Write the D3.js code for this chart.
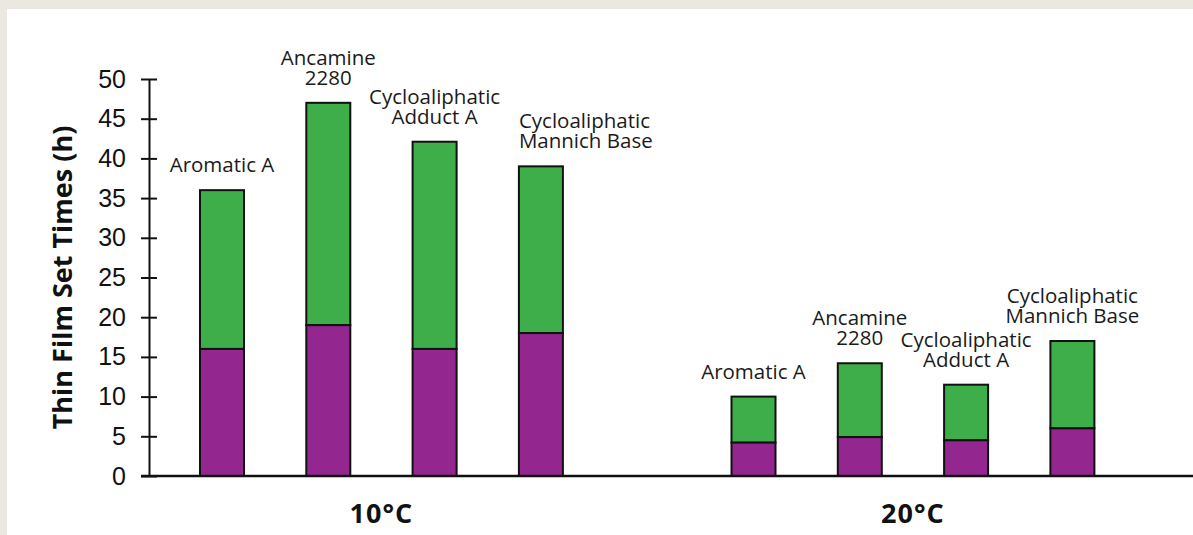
<!DOCTYPE html>
<html>
<head>
<meta charset="utf-8">
<script src="https://cdn.jsdelivr.net/npm/d3@7"></script>
<style>
    html, body { margin: 0; padding: 0; background: #ebe8e2; }
    svg { display: block; }
</style>
</head>
<body>
<div id="chart"></div>
<script>
// data
var groups = ["10°C", "20°C"];
var categories = ["Aromatic A", "Ancamine 2280", "Cycloaliphatic Adduct A", "Cycloaliphatic Mannich Base"];
var labelLines = [["Aromatic A"], ["Ancamine", "2280"], ["Cycloaliphatic", "Adduct A"], ["Cycloaliphatic", "Mannich Base"]];
// lower (purple) part and total height of each bar, per group
var lowerValues = { "10°C": [16, 19, 16, 18], "20°C": [4.2, 4.9, 4.5, 6] };
var totalValues = { "10°C": [36, 47, 42.1, 39], "20°C": [10, 14.2, 11.5, 17] };
var yTicks = [0, 5, 10, 15, 20, 25, 30, 35, 40, 45, 50];

var purple = "#93278f", green = "#3dae4a";
var W = 1193, H = 535;

var svg = d3.select("#chart")
    .append("svg")
        .attr("width", W)
        .attr("height", H);

// white panel on the beige page
svg.append("rect")
    .attr("x", 7)
    .attr("y", 9)
    .attr("width", W - 7)
    .attr("height", H - 9)
    .attr("fill", "#ffffff");

// one slot per bar, with an empty slot between the two groups
var slots = [];
groups.forEach(function(g, gi) {
    if (gi > 0) slots.push("gap" + gi);
    categories.forEach(function(c) { slots.push(g + "|" + c); });
});

var x = d3.scalePoint()
    .domain(slots)
    .range([222, 1072.4]);
var barW = 44;

var y = d3.scaleLinear()
    .domain([0, 50])
    .range([476, 79]);

// flatten into one row per bar
var data = [];
groups.forEach(function(g) {
    categories.forEach(function(c, i) {
        data.push({ group: g, cat: c, idx: i, lower: lowerValues[g][i], total: totalValues[g][i] });
    });
});

var bars = svg.selectAll(".bar")
    .data(data)
    .enter()
    .append("g")
        .attr("class", "bar");

// upper (green) part
bars.append("rect")
    .attr("x", function(d) { return x(d.group + "|" + d.cat) - barW / 2; })
    .attr("y", function(d) { return y(d.total); })
    .attr("width", barW)
    .attr("height", function(d) { return y(d.lower) - y(d.total); })
    .attr("fill", green)
    .attr("stroke", "#111")
    .attr("stroke-width", 2);

// lower (purple) part
bars.append("rect")
    .attr("x", function(d) { return x(d.group + "|" + d.cat) - barW / 2; })
    .attr("y", function(d) { return y(d.lower); })
    .attr("width", barW)
    .attr("height", function(d) { return y(0) - y(d.lower); })
    .attr("fill", purple)
    .attr("stroke", "#111")
    .attr("stroke-width", 2);

// category names above each bar
var lineH = 20;
var labels = bars.append("text")
    .attr("class", "catLabel")
    .attr("text-anchor", "middle")
    .attr("font-family", "'Open Sans', sans-serif")
    .attr("font-size", 20.5)
    .attr("fill", "#1a1a1a")
    .each(function(d) {
        var lines = labelLines[d.idx];
        var cx = x(d.group + "|" + d.cat);
        var base = y(d.total) - 18;
        d3.select(this).selectAll("tspan")
            .data(lines)
            .enter()
            .append("tspan")
                .attr("x", cx)
                .attr("y", function(t, i) { return base - (lines.length - 1 - i) * lineH; })
                .text(function(t) { return t; });
    });

// boxes of each line of a label
function lineBoxes(el) {
    var boxes = [];
    var anchor = d3.select(el).attr("text-anchor");
    d3.select(el).selectAll("tspan").each(function() {
        var w = this.getComputedTextLength();
        var tx = +d3.select(this).attr("x"), ty = +d3.select(this).attr("y");
        var x0 = anchor === "start" ? tx : tx - w / 2;
        boxes.push({ x0: x0, x1: x0 + w, y0: ty - 15, y1: ty + 4 });
    });
    return boxes;
}
function hits(a, b) {
    return a.some(function(p) {
        return b.some(function(q) {
            return p.x0 < q.x1 + 4 && q.x0 < p.x1 + 4 && p.y0 < q.y1 && q.y0 < p.y1;
        });
    });
}

// if a label runs into the one before it, left-align it on the bar edge instead
var prev = null;
labels.each(function(d) {
    var boxes = lineBoxes(this);
    if (prev && prev.group === d.group && hits(boxes, prev.boxes)) {
        var left = x(d.group + "|" + d.cat) - barW / 2;
        d3.select(this).attr("text-anchor", "start").selectAll("tspan").attr("x", left);
        boxes = lineBoxes(this);
    }
    prev = { group: d.group, boxes: boxes };
});

// y axis
var yAxis = svg.append("g")
    .attr("transform", "translate(149,0)")
    .call(d3.axisLeft(y).tickValues(yTicks).tickSizeInner(8).tickSizeOuter(0).tickPadding(15));
yAxis.select(".domain").attr("stroke", "#111").attr("stroke-width", 2);
yAxis.selectAll(".tick line").attr("x1", 8).attr("stroke", "#111").attr("stroke-width", 2);
yAxis.selectAll(".tick text")
    .attr("font-family", "'Liberation Sans', Arial, sans-serif")
    .attr("font-size", 25)
    .attr("fill", "#111");

// x baseline runs to the right edge
svg.append("line")
    .attr("x1", 141)
    .attr("x2", W)
    .attr("y1", y(0))
    .attr("y2", y(0))
    .attr("stroke", "#111")
    .attr("stroke-width", 2.5);

// group labels under the baseline
svg.selectAll(".groupLabel")
    .data(groups)
    .enter()
    .append("text")
        .attr("class", "groupLabel")
        .attr("x", function(g) {
            return (x(g + "|" + categories[0]) + x(g + "|" + categories[categories.length - 1])) / 2;
        })
        .attr("y", 523)
        .attr("text-anchor", "middle")
        .attr("font-family", "'Open Sans', sans-serif")
        .attr("font-weight", "bold")
        .attr("font-size", 27)
        .attr("letter-spacing", 1)
        .attr("fill", "#111")
        .text(function(g) { return g; });

// y axis title
svg.append("text")
    .attr("transform", "translate(63," + (y(0) + y(50)) / 2 + ") rotate(-90)")
    .attr("text-anchor", "middle")
    .attr("dy", "0.35em")
    .attr("font-family", "'Open Sans', sans-serif")
    .attr("font-weight", "bold")
    .attr("font-size", 27)
    .attr("fill", "#111")
    .text("Thin Film Set Times (h)");
</script>
</body>
</html>
